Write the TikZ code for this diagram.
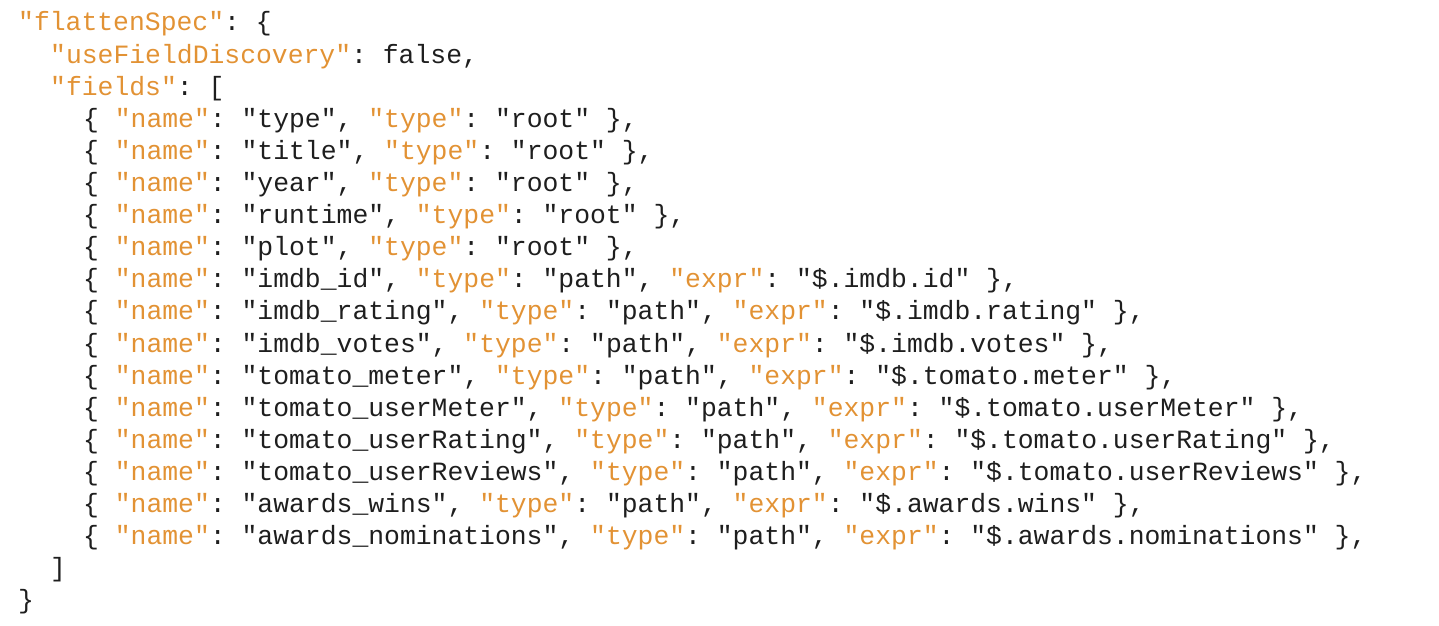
\documentclass[tikz,border=0pt]{standalone}
\usepackage{fontspec}
\setmonofont{Liberation Mono}
\definecolor{keyc}{RGB}{226,146,52}
\definecolor{txtc}{RGB}{30,30,30}
\newcommand{\K}[1]{\textcolor{keyc}{"#1"}}
\begin{document}
\begin{tikzpicture}[x=1pt,y=-1pt,
  codeline/.style={anchor=base west,inner sep=0pt,font=\ttfamily\fontsize{26.4}{30}\selectfont,text=txtc}]
\useasboundingbox (0,0) rectangle (1439,625);
\def\B{8.5}
\node[codeline] (l1) at (18,22+\B) {\K{flattenSpec}: \{};
\node[codeline] (l2) at (50,55+\B) {\K{useFieldDiscovery}: false,};
\node[codeline] (l3) at (50,87+\B) {\K{fields}: [};
\foreach \i/\t in {0/{\{ \K{name}: "type", \K{type}: "root" \},},
 1/{\{ \K{name}: "title", \K{type}: "root" \},},
 2/{\{ \K{name}: "year", \K{type}: "root" \},},
 3/{\{ \K{name}: "runtime", \K{type}: "root" \},},
 4/{\{ \K{name}: "plot", \K{type}: "root" \},},
 5/{\{ \K{name}: "imdb\_id", \K{type}: "path", \K{expr}: "\$.imdb.id" \},},
 6/{\{ \K{name}: "imdb\_rating", \K{type}: "path", \K{expr}: "\$.imdb.rating" \},},
 7/{\{ \K{name}: "imdb\_votes", \K{type}: "path", \K{expr}: "\$.imdb.votes" \},},
 8/{\{ \K{name}: "tomato\_meter", \K{type}: "path", \K{expr}: "\$.tomato.meter" \},},
 9/{\{ \K{name}: "tomato\_userMeter", \K{type}: "path", \K{expr}: "\$.tomato.userMeter" \},},
 10/{\{ \K{name}: "tomato\_userRating", \K{type}: "path", \K{expr}: "\$.tomato.userRating" \},},
 11/{\{ \K{name}: "tomato\_userReviews", \K{type}: "path", \K{expr}: "\$.tomato.userReviews" \},},
 12/{\{ \K{name}: "awards\_wins", \K{type}: "path", \K{expr}: "\$.awards.wins" \},},
 13/{\{ \K{name}: "awards\_nominations", \K{type}: "path", \K{expr}: "\$.awards.nominations" \},}}
  \node[codeline] (f\i) at (83,119+32.08*\i+\B) {\t};
\node[codeline] (l18) at (50,568+\B) {]};
\node[codeline] (l19) at (18,600+\B) {\}};
\end{tikzpicture}
\end{document}
